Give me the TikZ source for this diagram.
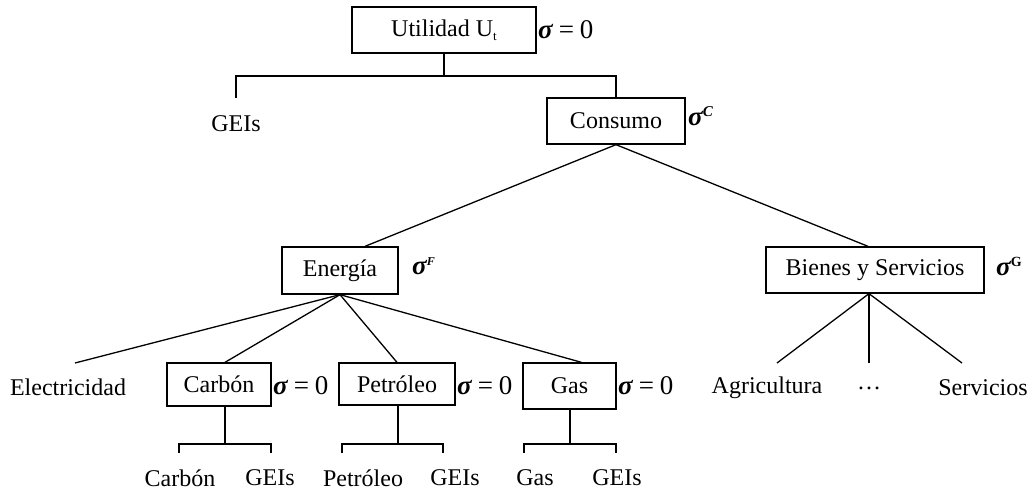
\documentclass[tikz,border=0pt]{standalone}
\usepackage{fontspec}
\setmainfont{Liberation Serif}
\begin{document}
\begin{tikzpicture}[x=1pt,y=-1pt,
  every node/.style={font=\fontsize{24}{28}\selectfont, inner sep=0pt},
  box/.style={draw, line width=1.3pt},
  conn/.style={line width=1.3pt},
  sig/.style={anchor=west}]
\useasboundingbox (0,0) rectangle (1034,493);
\newcommand{\sgm}{{\fontsize{27}{28}\selectfont\bfseries\itshape σ}}
\newcommand{\sgz}{\sgm{\fontsize{27}{28}\selectfont\hspace{6pt}=\hspace{6pt}0}}
% boxes
\node[box, minimum width=184pt, minimum height=46pt] (util) at (444,30) {Utilidad U\raisebox{-4pt}{\fontsize{13}{13}\selectfont t}};
\node[box, minimum width=138pt, minimum height=46pt] (consumo) at (616,121) {Consumo};
\node[box, minimum width=116pt, minimum height=47pt] (energia) at (340,270.5) {Energía};
\node[box, minimum width=218pt, minimum height=46pt] (bienes) at (875,270) {Bienes y Servicios};
\node[box, minimum width=104pt, minimum height=43pt] (carbon) at (219,384.5) {Carbón};
\node[box, minimum width=116pt, minimum height=42pt] (petroleo) at (397,384) {Petróleo};
\node[box, minimum width=93pt, minimum height=46pt] (gas) at (569.5,386) {Gas};
% sigma labels
\node[sig] (s1) at (538,30) {\sgz};
\node[sig] (s2) at (688,116) {\sgm\raisebox{9pt}{\fontsize{15}{15}\selectfont\bfseries\itshape C}};
\node[sig] (s3) at (412,266) {\sgm\raisebox{9pt}{\fontsize{12}{12}\selectfont\bfseries\itshape F}};
\node[sig] (s4) at (996,266) {\sgm\raisebox{9pt}{\fontsize{14}{14}\selectfont\bfseries G}};
\node[sig] (s5) at (273,386) {\sgz};
\node[sig] (s6) at (457,386) {\sgz};
\node[sig] (s7) at (618,386) {\sgz};
% plain labels
\node (geis0) at (236,124) {GEIs};
\node (elec) at (68,387) {Electricidad};
\node (agri) at (767,388) {Agricultura};
\node (dots) at (869,388) {\ldots};
\node (serv) at (983,388) {Servicios};
\node (b1) at (180,478) {Carbón};
\node (b2) at (270,478) {GEIs};
\node (b3) at (363,478) {Petróleo};
\node (b4) at (455,478) {GEIs};
\node (b5) at (535,478) {Gas};
\node (b6) at (617,478) {GEIs};
% coordinates
\coordinate (j0) at (444,76);
\coordinate (g0) at (236,98);
\coordinate (el) at (75,363);
\coordinate (a1) at (777,363);
\coordinate (a2) at (869,363);
\coordinate (a3) at (962,363);
\coordinate (c1) at (179,453);
\coordinate (c2) at (271,453);
\coordinate (p1) at (342,453);
\coordinate (p2) at (443,453);
\coordinate (q1) at (524,453);
\coordinate (q2) at (616,453);
% connectors
\draw[conn] (util.south) -- (j0);
\draw[conn] (g0) |- (j0) -| (consumo.north);
\draw[conn] (consumo.south) -- ([xshift=25pt]energia.north);
\draw[conn] (consumo.south) -- ([xshift=-7pt]bienes.north);
\draw[conn] (energia.south) -- (el);
\draw[conn] (energia.south) -- ([xshift=6pt]carbon.north);
\draw[conn] (energia.south) -- (petroleo.north);
\draw[conn] (energia.south) -- ([xshift=12pt]gas.north);
\draw[conn] ([xshift=-6pt]bienes.south) -- (a1);
\draw[conn] ([xshift=-6pt]bienes.south) -- (a2);
\draw[conn] ([xshift=-6pt]bienes.south) -- (a3);
\draw[conn] ([xshift=6pt]carbon.south) -- ([xshift=6pt]carbon.south |- 0,444);
\draw[conn] (c1) |- (225,444) -| (c2);
\draw[conn] ([xshift=1pt]petroleo.south) -- ([xshift=1pt]petroleo.south |- 0,444);
\draw[conn] (p1) |- (398,444) -| (p2);
\draw[conn] ([xshift=0.5pt]gas.south) -- ([xshift=0.5pt]gas.south |- 0,444);
\draw[conn] (q1) |- (570,444) -| (q2);
\end{tikzpicture}
\end{document}
